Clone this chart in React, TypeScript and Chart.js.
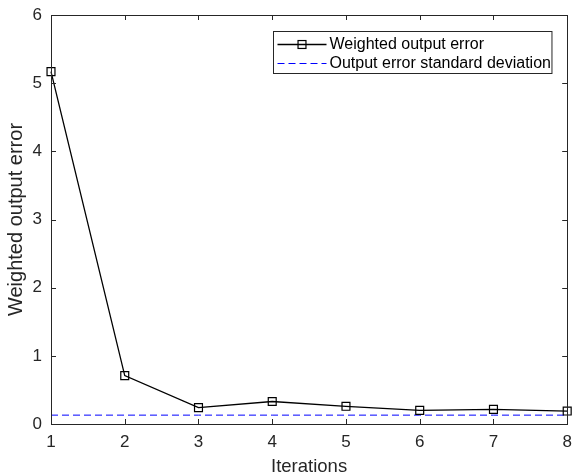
import React, { useEffect, useRef } from "react";
import { Chart, registerables } from "chart.js";

Chart.register(...registerables);

const iterations = [1, 2, 3, 4, 5, 6, 7, 8];
const weightedError = [5.17, 0.71, 0.24, 0.33, 0.26, 0.2, 0.215, 0.19];
const stdDeviation = 0.13;
const seriesLabels = ["Weighted output error", "Output error standard deviation"];
const xTitle = "Iterations";
const yTitle = "Weighted output error";

const FONT = "'Liberation Sans', Arial, Helvetica, sans-serif";
const AXIS_COLOR = "#262626";

const matlabAxesPlugin = {
  id: "matlabAxes",
  afterDatasetsDraw(chart: any) {
    const { ctx, chartArea } = chart;
    const { left, right, top, bottom } = chartArea;
    const xs = chart.scales.x;
    const ys = chart.scales.y;
    const tl = 5;
    ctx.save();
    ctx.strokeStyle = AXIS_COLOR;
    ctx.lineWidth = 1;
    ctx.beginPath();
    xs.ticks.forEach((t: any) => {
      const px = Math.round(xs.getPixelForValue(t.value)) + 0.5;
      ctx.moveTo(px, bottom);
      ctx.lineTo(px, bottom - tl);
      ctx.moveTo(px, top);
      ctx.lineTo(px, top + tl);
    });
    ys.ticks.forEach((t: any) => {
      const py = Math.round(ys.getPixelForValue(t.value)) + 0.5;
      ctx.moveTo(left, py);
      ctx.lineTo(left + tl, py);
      ctx.moveTo(right, py);
      ctx.lineTo(right - tl, py);
    });
    ctx.stroke();
    ctx.strokeRect(Math.round(left) + 0.5, Math.round(top) + 0.5, Math.round(right - left), Math.round(bottom - top));

    // legend
    ctx.font = `16px ${FONT}`;
    const sampleW = 49;
    const textW = Math.max(...seriesLabels.map((s) => ctx.measureText(s).width));
    const boxW = 4 + sampleW + 3 + textW + 1;
    const boxH = 42;
    const bx = Math.round(right - 16 - boxW) + 0.5;
    const by = Math.round(top + 16) + 0.5;
    ctx.fillStyle = "#ffffff";
    ctx.fillRect(bx, by, boxW, boxH);
    ctx.strokeStyle = AXIS_COLOR;
    ctx.strokeRect(bx, by, boxW, boxH);
    const rows = [by + 12.5, by + 31.5];
    const ds = chart.data.datasets;
    ds.forEach((d: any, i: number) => {
      const y = Math.round(rows[i]) + 0.5;
      const x0 = bx + 4;
      ctx.save();
      ctx.strokeStyle = d.borderColor;
      ctx.lineWidth = d.borderWidth;
      ctx.setLineDash(d.borderDash || []);
      ctx.beginPath();
      ctx.moveTo(x0, y);
      ctx.lineTo(x0 + sampleW, y);
      ctx.stroke();
      ctx.setLineDash([]);
      if (d.pointRadius > 0) {
        const s = d.pointRadius * Math.SQRT1_2;
        ctx.lineWidth = d.pointBorderWidth;
        ctx.strokeStyle = d.pointBorderColor;
        ctx.strokeRect(x0 + sampleW / 2 - s, y - s, 2 * s, 2 * s);
      }
      ctx.restore();
      ctx.fillStyle = "#000000";
      ctx.textBaseline = "middle";
      ctx.textAlign = "left";
      ctx.fillText(seriesLabels[i], x0 + sampleW + 3, y);
    });
    ctx.restore();
  },
};

export default function App() {
  const ref = useRef<HTMLCanvasElement | null>(null);
  useEffect(() => {
    document.body.style.margin = "0";
    const canvas = ref.current!;
    const chart = new Chart(canvas, {
      type: "line",
      data: {
        datasets: [
          {
            label: seriesLabels[0],
            data: iterations.map((x, i) => ({ x, y: weightedError[i] })),
            borderColor: "#000000",
            borderWidth: 1.3,
            pointStyle: "rect",
            pointRadius: 5.6,
            pointBorderWidth: 1.2,
            pointBorderColor: "#000000",
            pointBackgroundColor: "rgba(0,0,0,0)",
            fill: false,
            tension: 0,
            clip: false,
          },
          {
            label: seriesLabels[1],
            data: iterations.map((x) => ({ x, y: stdDeviation })),
            borderColor: "#0000ff",
            borderWidth: 1,
            borderDash: [7, 4],
            pointRadius: 0,
            fill: false,
            tension: 0,
          },
        ],
      },
      options: {
        animation: false,
        responsive: false,
        layout: { padding: { left: 0, right: 5, top: 15, bottom: 0 } },
        plugins: { legend: { display: false }, tooltip: { enabled: false } },
        scales: {
          x: {
            type: "linear",
            min: 1,
            max: 8,
            grid: { display: false, drawTicks: false },
            border: { display: false },
            ticks: {
              stepSize: 1,
              padding: 8,
              color: AXIS_COLOR,
              font: { family: FONT, size: 17 },
              maxRotation: 0,
            },
            title: {
              display: true,
              text: xTitle,
              color: AXIS_COLOR,
              font: { family: FONT, size: 18.5, lineHeight: 1 },
              padding: 0,
            },
            afterFit: (s: any) => {
              s.height = 52;
              s.paddingLeft = 0;
              s.paddingRight = 0;
            },
          },
          y: {
            type: "linear",
            min: 0,
            max: 6,
            grid: { display: false, drawTicks: false },
            border: { display: false },
            ticks: {
              stepSize: 1,
              padding: 9,
              color: AXIS_COLOR,
              font: { family: FONT, size: 17 },
            },
            title: {
              display: true,
              text: yTitle,
              color: AXIS_COLOR,
              font: { family: FONT, size: 20, lineHeight: 1 },
              padding: { top: 6.5, bottom: 0 },
            },
            afterFit: (s: any) => {
              s.width = 51;
              s.paddingTop = 0;
              s.paddingBottom = 0;
            },
          },
        },
      },
      plugins: [matlabAxesPlugin],
    });
    return () => chart.destroy();
  }, []);
  return (
    <div style={{ position: "absolute", left: 0, top: 0, width: 574, height: 476, background: "#fff" }}>
      <canvas ref={ref} width={574} height={476} />
    </div>
  );
}
